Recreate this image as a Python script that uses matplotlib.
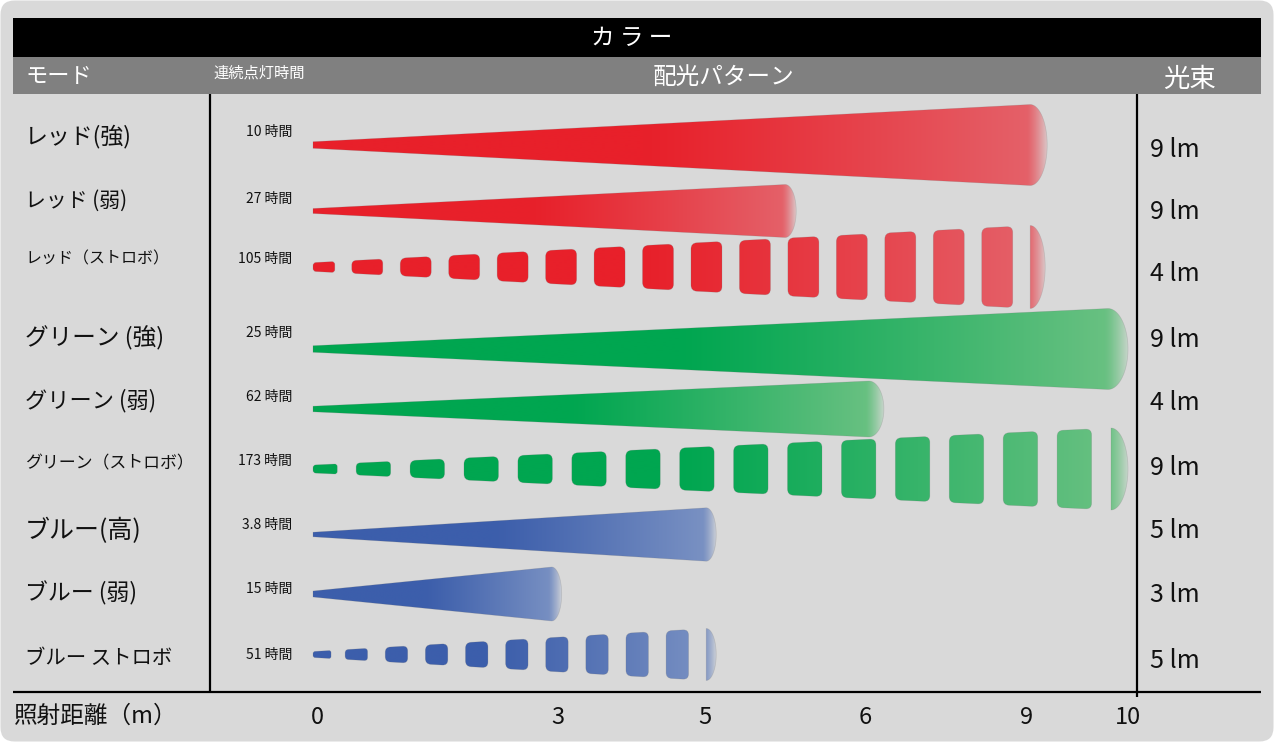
import numpy as np
import matplotlib
matplotlib.use('Agg')
import matplotlib.pyplot as plt
from matplotlib.path import Path
from matplotlib.patches import PathPatch, FancyBboxPatch, Rectangle

plt.rcParams['font.family'] = ['Noto Sans CJK JP', 'DejaVu Sans']

# ---- data
modes = ['レッド(強)', 'レッド (弱)', 'レッド（ストロボ）',
         'グリーン (強)', 'グリーン (弱)', 'グリーン（ストロボ）',
         'ブルー(高)', 'ブルー (弱)', 'ブルー ストロボ']
hours = ['10', '27', '105', '25', '62', '173', '3.8', '15', '51']
lumens = [9, 9, 4, 9, 4, 9, 5, 3, 5]
reach_m = [9.2, 5.57, 9.18, 10.0, 6.35, 10.0, 5.07, 3.05, 5.07]   # beam end (m)
colour_of = ['red', 'red', 'red', 'green', 'green', 'green', 'blue', 'blue', 'blue']
strobe = [False, False, True, False, False, True, False, False, True]
dist_ticks = [0, 3, 5, 6, 9, 10]

# ---- layout (pixels, figure is 1274x742)
tick_px = [317, 558, 705, 865, 1027, 1128]
beam_x0 = 313
beam_y = [145, 211, 267, 349, 409, 469, 534.5, 594, 654.5]
end_half = [40.5, 26.5, 41.5, 40.5, 28, 41, 26.7, 27, 26]
apex_half = [3.3, 2.5, 4.4, 3.3, 2.8, 4.0, 2.3, 3.0, 3.0]
cap_w = [17, 11, 15, 20, 15, 17, 10, 10, 10]
n_dash = [0, 0, 14, 0, 0, 14, 0, 0, 9]
dash_fill = [0, 0, 0.64, 0, 0, 0.64, 0, 0, 0.56]
mode_y = [137, 201, 259, 338, 401, 463, 531, 593, 658]
mode_fs = [16.5, 15, 11.5, 17, 16, 12.2, 18, 16.5, 14.7]
hour_y = [132, 199, 259, 333, 397, 461, 525, 589, 655]
lm_y = [150, 212, 274, 340, 403, 468, 531, 595, 661]

palette = {
    'red': ((232, 32, 42), (228, 100, 108)),
    'green': ((0, 166, 80), (110, 194, 132)),
    'blue': ((60, 94, 171), (125, 148, 196)),
}
bg = '#d9d9d9'


def rounded_poly(pts, r):
    pts = np.asarray(pts, float)
    n = len(pts)
    verts, codes = [], []
    for i in range(n):
        p, prev, nxt = pts[i], pts[i - 1], pts[(i + 1) % n]
        d1, d2 = prev - p, nxt - p
        l1, l2 = np.linalg.norm(d1), np.linalg.norm(d2)
        rr = min(r, l1 / 2, l2 / 2)
        a = p + d1 / l1 * rr
        b = p + d2 / l2 * rr
        verts.append(a)
        codes.append(Path.MOVETO if i == 0 else Path.LINETO)
        verts += [p, b]
        codes += [Path.CURVE3, Path.CURVE3]
    verts.append(verts[0])
    codes.append(Path.CLOSEPOLY)
    return Path(verts, codes)


def arc_pts(xs, yc, cw, H, k=40):
    th = np.linspace(-np.pi / 2, np.pi / 2, k)
    return [(xs + cw * np.cos(t), yc + H * np.sin(t)) for t in th]


def beam_rgba(x0, x1, cw, c0, c1):
    xs = np.arange(x0, x1 + 1, 1.0)
    t = (xs - x0) / (x1 - x0)
    mix = np.clip((t - 0.45) / 0.55, 0, 1) ** 1.1
    c0 = np.array(c0) / 255.0
    c1 = np.array(c1) / 255.0
    rgb = c0[None, :] * (1 - mix[:, None]) + c1[None, :] * mix[:, None]
    u = np.clip((xs - (x1 - cw - 3)) / (cw + 3), 0, 1)
    a = 1 - 0.8 * u ** 1.4
    row = np.concatenate([rgb, a[:, None]], axis=1)
    return np.stack([row, row])


fig = plt.figure(figsize=(12.74, 7.42), dpi=100, facecolor='white')
ax = fig.add_axes([0, 0, 1, 1])
ax.axis('off')

ax.add_patch(FancyBboxPatch((0.5, 0.5), 1273, 741, boxstyle='round,pad=0,rounding_size=14',
                            fc=bg, ec='none', zorder=0))
ax.add_patch(Rectangle((13, 18), 1248, 39, fc='black', ec='none', zorder=1))
ax.add_patch(Rectangle((13, 57), 1248, 37, fc='#808080', ec='none', zorder=1))

ax.plot([210, 210], [94, 692], color='black', lw=1.6, zorder=3, solid_capstyle='butt')
ax.plot([1137, 1137], [94, 697], color='black', lw=1.6, zorder=3, solid_capstyle='butt')
ax.plot([13, 1261], [692, 692], color='black', lw=1.6, zorder=3, solid_capstyle='butt')

# header texts
ax.text(632, 38, 'カ ラ ー', color='white', fontsize=17, ha='center', va='center')
ax.text(25, 77, 'モード', color='white', fontsize=16, ha='left', va='center')
ax.text(213, 73, '連続点灯時間', color='white', fontsize=11, ha='left', va='center')
ax.text(723, 78, '配光パターン', color='white', fontsize=17, ha='center', va='center')
ax.text(1189, 79, '光束', color='white', fontsize=19, ha='center', va='center')

# beams
for i in range(len(modes)):
    c0, c1 = palette[colour_of[i]]
    yc, H, h0, cw = beam_y[i], end_half[i], apex_half[i], cap_w[i]
    x_end = np.interp(reach_m[i], dist_ticks, tick_px)
    xs = x_end - cw
    if not strobe[i]:
        pts = [(beam_x0, yc - h0), (xs, yc - H)] + arc_pts(xs, yc, cw, H) + \
              [(xs, yc + H), (beam_x0, yc + h0)]
        path = Path(np.array(pts + [pts[0]]),
                    [Path.MOVETO] + [Path.LINETO] * (len(pts) - 1) + [Path.CLOSEPOLY])
    else:
        N = n_dash[i]
        p = (xs - beam_x0) / (N + 0.8)
        fill = dash_fill[i]

        def half(x):
            return h0 + (H - h0) * (x - beam_x0) / (xs - beam_x0)

        parts = []
        spans = [(beam_x0, beam_x0 + 0.45 * p)]
        spans += [(beam_x0 + 0.8 * p + k * p, beam_x0 + 0.8 * p + k * p + fill * p) for k in range(N)]
        for a, b in spans:
            r = min(6.0, 0.25 * (b - a), half(a) * 0.7)
            parts.append(rounded_poly([(a, yc - half(a)), (b, yc - half(b)),
                                       (b, yc + half(b)), (a, yc + half(a))], r))
        cap = [(xs, yc - H)] + arc_pts(xs, yc, cw, H) + [(xs, yc + H)]
        parts.append(Path(np.array(cap + [cap[0]]),
                          [Path.MOVETO] + [Path.LINETO] * (len(cap) - 1) + [Path.CLOSEPOLY]))
        path = Path.make_compound_path(*parts)

    img = beam_rgba(beam_x0, x_end, cw, c0, c1)
    im = ax.imshow(img, extent=(beam_x0, x_end, yc + H + 3, yc - H - 3),
                   aspect='auto', interpolation='bilinear', zorder=2)
    im.set_clip_path(PathPatch(path, transform=ax.transData))
    ax.add_patch(PathPatch(path, fc='none', ec=(0.45, 0.45, 0.45, 0.25), lw=0.5, zorder=2.5))

    # row texts
    ax.text(25, mode_y[i], modes[i], fontsize=mode_fs[i], ha='left', va='center', color='#111111')
    ax.text(292, hour_y[i], f'{hours[i]} 時間', fontsize=10, ha='right', va='center', color='#111111')
    ax.text(1150, lm_y[i], f'{lumens[i]} lm', fontsize=18, ha='left', va='center', color='#111111')

# distance axis
ax.text(14, 716, '照射距離（m）', fontsize=17, ha='left', va='center', color='#111111')
for d, xp in zip(dist_ticks, tick_px):
    ax.text(xp, 717, str(d), fontsize=17, ha='center', va='center', color='#111111')

ax.set_xlim(0, 1274)
ax.set_ylim(742, 0)
fig.savefig('out.png', dpi=100, facecolor='white')
